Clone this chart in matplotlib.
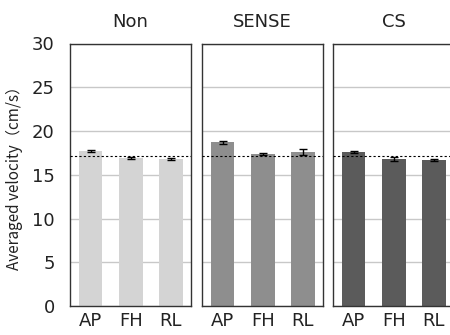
import matplotlib
matplotlib.use("Agg")
import matplotlib.pyplot as plt

plt.rcParams['font.family'] = ['DejaVu Sans']

# data
groups = ["Non", "SENSE", "CS"]
sites = ["AP", "FH", "RL"]
non_vals = [17.7, 16.9, 16.8]
sense_vals = [18.7, 17.4, 17.6]
cs_vals = [17.6, 16.8, 16.7]
non_err = [0.1, 0.1, 0.15]
sense_err = [0.2, 0.1, 0.3]
cs_err = [0.15, 0.2, 0.15]
ref_line = 17.2

values = [non_vals, sense_vals, cs_vals]
errors = [non_err, sense_err, cs_err]
colors = ["#d4d4d4", "#8e8e8e", "#5b5b5b"]

fig = plt.figure(figsize=(4.5, 3.35), dpi=100)
lefts = [70, 202, 333]
for i, g in enumerate(groups):
    ax = fig.add_axes([lefts[i] / 450, 1 - 306 / 335, 121 / 450, (306 - 43.5) / 335])
    x = range(len(sites))
    ax.bar(x, values[i], width=0.58, color=colors[i], zorder=2,
           yerr=errors[i], error_kw=dict(ecolor="black", elinewidth=1, capsize=3, capthick=1))
    ax.axhline(ref_line, color="black", linestyle=(0, (2, 2)), linewidth=0.8, zorder=3)
    ax.set_xlim(-0.52, 2.5)
    ax.set_ylim(0, 30)
    ax.set_yticks(range(0, 31, 5))
    ax.yaxis.grid(True, color="#c8c8c8", linewidth=1, zorder=0)
    ax.set_axisbelow(True)
    ax.set_xticks(list(x))
    ax.set_xticklabels(sites, fontsize=13, color="#222222")
    ax.tick_params(axis="both", length=0, pad=4)
    ax.set_title(g, fontsize=13, pad=12, color="#222222")
    for s in ax.spines.values():
        s.set_color("#333333")
        s.set_linewidth(1)
    if i == 0:
        ax.tick_params(axis="y", labelsize=13, pad=11, labelcolor="#222222")
        ax.set_ylabel("Averaged velocity（cm/s）", fontsize=11, labelpad=6,
                      family=['Noto Sans CJK JP', 'DejaVu Sans'], color="#222222")
    else:
        ax.set_yticklabels([])

fig.savefig("out.png", dpi=100)
